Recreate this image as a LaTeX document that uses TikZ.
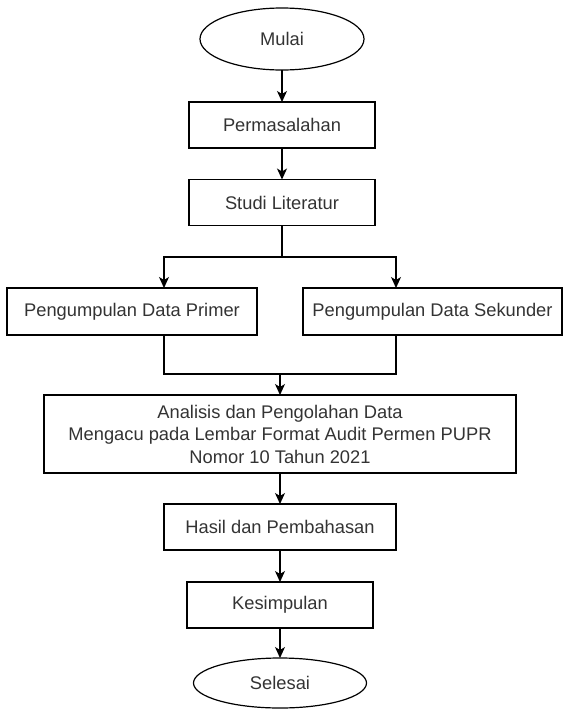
\documentclass[tikz,border=0pt]{standalone}
\usepackage{fontspec}
\setmainfont{Liberation Sans}
\usetikzlibrary{shapes.geometric,arrows.meta}
\begin{document}
\begin{tikzpicture}[x=1pt,y=-1pt,inner sep=0pt,outer sep=0pt,line width=1.2pt,
>={Stealth[length=11pt,width=10pt,inset=3pt]},
every node/.style={font=\fontsize{18.3}{22.5}\selectfont,text=black!80},
procbox/.style={draw,rectangle,minimum height=46pt,align=center},
termnode/.style={draw,ellipse}]
\useasboundingbox (0,0) rectangle (563,710);
\draw (282,39) node[termnode,minimum width=164pt,minimum height=62pt] (mulai) {Mulai};
\draw (282,125) node[procbox,minimum width=186pt] (perm) {Permasalahan};
\draw (282,202.5) node[procbox,minimum width=186pt] (studi) {Studi Literatur};
\draw (132,311.5) node[procbox,minimum width=250pt,minimum height=47pt] (primer) {Pengumpulan Data Primer};
\draw (432.5,311.5) node[procbox,minimum width=259pt,minimum height=47pt] (sekunder) {Pengumpulan Data Sekunder};
\draw (280,434) node[procbox,minimum width=472pt,minimum height=78pt] (analisis) {Analisis dan Pengolahan Data\\Mengacu pada Lembar Format Audit Permen PUPR\\Nomor 10 Tahun 2021};
\draw (280,527) node[procbox,minimum width=232pt] (hasil) {Hasil dan Pembahasan};
\draw (280,605) node[procbox,minimum width=186pt] (kesimpulan) {Kesimpulan};
\draw (280,683) node[termnode,minimum width=173pt,minimum height=50pt] (selesai) {Selesai};

\coordinate (brL) at (164,257);
\coordinate (brR) at (396,257);
\coordinate (mgL) at (164,374);
\coordinate (mgR) at (396,374);

\draw[->] (mulai.south) -- (perm.north);
\draw[->] (perm.south) -- (studi.north);
\draw[->] (studi.south) |- (brL) -- (brL |- primer.north);
\draw[->] (studi.south) |- (brR) -- (brR |- sekunder.north);
\draw (mgL |- primer.south) -- (mgL) -- (mgR) -- (mgR |- sekunder.south);
\draw[->] (analisis.north |- mgL) -- (analisis.north);
\draw[->] (analisis.south) -- (hasil.north);
\draw[->] (hasil.south) -- (kesimpulan.north);
\draw[->] (kesimpulan.south) -- (selesai.north);
\end{tikzpicture}
\end{document}
